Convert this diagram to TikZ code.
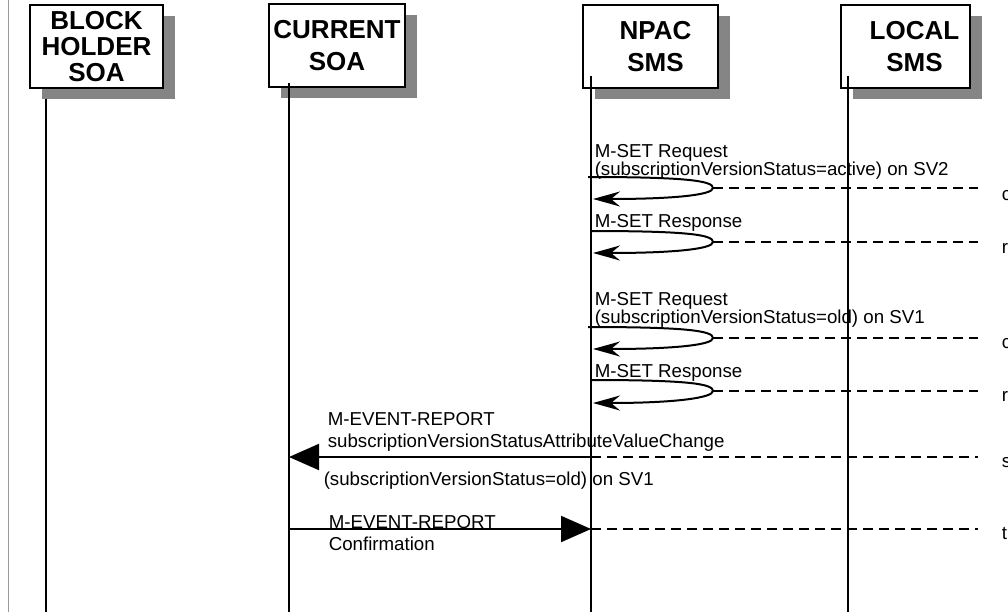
\documentclass[tikz,border=0pt]{standalone}
\usepackage{fontspec}
\setmainfont{Liberation Sans}
\usetikzlibrary{arrows.meta,shadows}

\begin{document}
\begin{tikzpicture}[x=1pt,y=-1pt,line width=1.5pt,
	actor/.style={draw,fill=white,line width=2pt,inner sep=2pt,minimum width=133pt,minimum height=83pt,align=center,font=\fontsize{26}{32}\selectfont\bfseries,drop shadow={shadow xshift=12pt,shadow yshift=-11pt,fill=black!48,opacity=1,fill opacity=1}},
	msg/.style={anchor=base west,inner sep=0pt,align=left,font=\fontsize{18.7}{18}\selectfont},
	event/.style={msg,font=\fontsize{18.7}{22}\selectfont},
	loop/.style={line width=2pt,-{Stealth[length=27pt,width=15pt,inset=9pt]}},
	call/.style={line width=2pt,-{Triangle[length=30pt,width=26pt]}},
	back/.style={dash pattern=on 10pt off 6pt}]
				
				\useasboundingbox (0,0) rectangle (1008,615);
				\draw[black!40,line width=1pt] (8,0) -- (8,612);
				
				\node[actor,font=\fontsize{26}{26}\selectfont\bfseries] (bh) at (96.5,46.5) {BLOCK\\HOLDER\\SOA};
				\node[actor,minimum width=136pt] (cur) at (337,46) {CURRENT\\SOA};
				\node[actor,minimum width=135pt] (npac) at (650.5,46.5) {\hspace{10pt}NPAC\\\hspace{10pt}SMS};
				\node[actor,minimum width=129pt] (loc) at (905.5,46.5) {\hspace{18pt}LOCAL\\\hspace{18pt}SMS};
				
				\coordinate (bh0) at (46,99);
				\coordinate (bh1) at (46,612);
				\coordinate (cur0) at (289,83);
				\coordinate (cur1) at (289,612);
				\coordinate (npac0) at (591,76);
				\coordinate (npac1) at (591,612);
				\coordinate (loc0) at (848,76);
				\coordinate (loc1) at (848,612);
				\draw (bh0) -- (bh1);
				\draw (cur0) -- (cur1);
				\draw (npac0) -- (npac1);
				\draw (loc0) -- (loc1);
				
				\node[msg] (m1) at (594,175) {M-SET Request\\(subscriptionVersionStatus=active) on SV2};
				\coordinate (q1) at (588,177);
				\coordinate (r1) at (713,188);
				\coordinate (p1) at (593,199);
				\coordinate (d1) at (978,188);
				\draw[loop] (q1) .. controls +(100,0) and +(0,-7) .. (r1) .. controls +(0,7) and +(80,0) .. (p1);
				\draw[back] (r1) -- (d1);
				\node[msg] (t1) at (1001,200) {c};
				
				\node[msg] (m2) at (594,227) {M-SET Response};
				\coordinate (q2) at (590,231);
				\coordinate (r2) at (713,242);
				\coordinate (p2) at (593,253);
				\coordinate (d2) at (978,242);
				\draw[loop] (q2) .. controls +(100,0) and +(0,-7) .. (r2) .. controls +(0,7) and +(80,0) .. (p2);
				\draw[back] (r2) -- (d2);
				\node[msg] (t2) at (1001,253) {r};
				
				\node[msg] (m3) at (594,323) {M-SET Request\\(subscriptionVersionStatus=old) on SV1};
				\coordinate (q3) at (588,327);
				\coordinate (r3) at (713,338);
				\coordinate (p3) at (593,349);
				\coordinate (d3) at (978,338);
				\draw[loop] (q3) .. controls +(100,0) and +(0,-7) .. (r3) .. controls +(0,7) and +(80,0) .. (p3);
				\draw[back] (r3) -- (d3);
				\node[msg] (t3) at (1001,348) {c};
				
				\node[msg] (m4) at (594,377) {M-SET Response};
				\coordinate (q4) at (590,380);
				\coordinate (r4) at (713,391);
				\coordinate (p4) at (593,403);
				\coordinate (d4) at (978,391);
				\draw[loop] (q4) .. controls +(100,0) and +(0,-7) .. (r4) .. controls +(0,7) and +(80,0) .. (p4);
				\draw[back] (r4) -- (d4);
				\node[msg] (t4) at (1001,401) {r};
				
				\node[event] (m5) at (327,447) {M-EVENT-REPORT\\subscriptionVersionStatusAttributeValueChange};
				\node[msg] (m5b) at (323,485) {(subscriptionVersionStatus=old) on SV1};
				\coordinate (n5) at (591,457);
				\coordinate (c5) at (289,457);
				\coordinate (d5) at (978,457);
				\draw[call] (n5) -- (c5);
				\draw[back] (n5) -- (d5);
				\node[msg] (t5) at (1001,467) {s};
				
				\node[event] (m6) at (328,550) {M-EVENT-REPORT\\Confirmation};
				\coordinate (c6) at (289,529);
				\coordinate (n6) at (591,529);
				\coordinate (d6) at (978,529);
				\draw[call] (c6) -- (n6);
				\draw[back] (n6) -- (d6);
				\node[msg] (t6) at (1001,539) {t};
				
				\end{tikzpicture}
\end{document}
